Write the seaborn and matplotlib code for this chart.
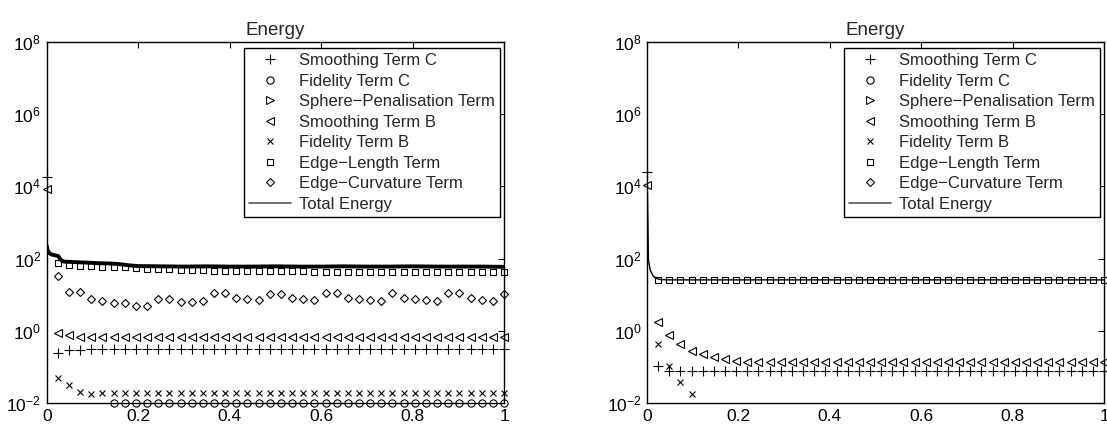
import numpy as np
import matplotlib
matplotlib.use("Agg")
import matplotlib.pyplot as plt
from matplotlib.lines import Line2D
import seaborn as sns

nan = np.nan

# iteration fraction at which the term markers are drawn (42 samples)
marker_x = np.linspace(0.0, 1.0, 42)

# ---- left run --------------------------------------------------------------
smooth_c_left = [18600, 0.24, 0.29, 0.30, 0.31, 0.31, 0.31,
                 0.31, 0.31, 0.31, 0.31, 0.31, 0.31, 0.31,
                 0.31, 0.31, 0.31, 0.32, 0.32, 0.32, 0.32,
                 0.32, 0.32, 0.32, 0.32, 0.32, 0.32, 0.32,
                 0.32, 0.32, 0.32, 0.32, 0.32, 0.32, 0.32,
                 0.32, 0.32, 0.32, 0.32, 0.32, 0.32, 0.32]
fid_c_left = [nan, nan, nan, nan, nan, nan, 0.0102,
              0.0102, 0.0102, 0.0102, 0.0102, 0.0102, 0.0102, 0.0102,
              0.0102, 0.0102, 0.0102, 0.0102, 0.0102, 0.0102, 0.0102,
              0.0102, 0.0102, 0.0102, 0.0102, 0.0102, 0.0102, 0.0102,
              0.0102, 0.0102, 0.0102, 0.0102, 0.0102, 0.0102, 0.0102,
              0.0102, 0.0102, 0.0102, 0.0102, 0.0102, 0.0102, 0.0102]
sphere_left = [nan] * 42
smooth_b_left = [8500, 0.89, 0.76, 0.69, 0.67, 0.66, 0.66,
                 0.66, 0.66, 0.66, 0.66, 0.66, 0.66, 0.66,
                 0.66, 0.66, 0.66, 0.66, 0.66, 0.66, 0.66,
                 0.66, 0.66, 0.66, 0.66, 0.66, 0.66, 0.66,
                 0.66, 0.66, 0.66, 0.66, 0.66, 0.66, 0.66,
                 0.66, 0.66, 0.66, 0.66, 0.66, 0.66, 0.66]
fid_b_left = [nan, 0.050, 0.031, 0.020, 0.018, 0.019, 0.0195,
              0.0195, 0.0195, 0.0195, 0.0195, 0.0195, 0.0195, 0.0195,
              0.0195, 0.0195, 0.0195, 0.0195, 0.0195, 0.0195, 0.0195,
              0.0195, 0.0195, 0.0195, 0.0195, 0.0195, 0.0195, 0.0195,
              0.0195, 0.0195, 0.0195, 0.0195, 0.0195, 0.0195, 0.0195,
              0.0195, 0.0195, 0.0195, 0.0195, 0.0195, 0.0195, 0.0195]
edge_len_left = [nan, 77, 66, 63, 61, 60, 58,
                 57, 55, 53, 51, 50, 49, 48,
                 47, 46, 46, 45, 45, 44, 44,
                 44, 44, 44, 43.5, 43.5, 43.5, 43.5,
                 43.5, 43.5, 43.5, 43.5, 43.5, 43.5, 43.5,
                 43.5, 43.5, 43.5, 43.5, 43.5, 43.5, 43]
edge_curv_left = [nan, 34, 11.7, 11.7, 7.4, 6.7, 5.8,
                  5.8, 5.0, 5.0, 7.5, 7.5, 6.1, 6.2,
                  6.7, 10.8, 11.0, 8.3, 7.6, 7.0, 10.6,
                  10.6, 7.9, 7.4, 7.1, 10.8, 10.8, 7.9,
                  7.4, 7.1, 6.8, 10.8, 7.9, 7.4, 7.1,
                  6.8, 10.8, 10.8, 7.9, 7.1, 6.8, 10.5]
total_x_left = [0, 0.002, 0.005, 0.01, 0.015, 0.02, 0.025, 0.03, 0.035, 0.04,
                0.06, 0.08, 0.10, 0.12, 0.14, 0.16, 0.18, 0.20, 0.25, 0.30,
                0.35, 0.40, 0.45, 0.50, 0.55, 0.60, 0.65, 0.70, 0.75, 0.80,
                0.85, 0.90, 0.95, 1.0]
total_y_left = [230, 165, 145, 130, 126, 122, 118, 95, 84, 82,
                80, 78, 76, 74, 73, 70, 65, 62, 61, 60,
                61, 60, 60, 61, 60, 60, 61, 60, 60, 61,
                60, 60, 60, 59]

# ---- right run -------------------------------------------------------------
smooth_c_right = [25700, 0.108, 0.079, 0.077, 0.076, 0.075, 0.075,
                  0.075, 0.075, 0.075, 0.075, 0.075, 0.075, 0.075,
                  0.075, 0.075, 0.075, 0.075, 0.075, 0.075, 0.075,
                  0.075, 0.075, 0.075, 0.075, 0.075, 0.075, 0.075,
                  0.075, 0.075, 0.075, 0.075, 0.075, 0.075, 0.075,
                  0.075, 0.075, 0.075, 0.075, 0.075, 0.075, 0.075]
fid_c_right = [nan] * 42
sphere_right = [nan] * 42
smooth_b_right = [11000, 1.72, 0.76, 0.43, 0.28, 0.224, 0.185,
                  0.166, 0.148, 0.140, 0.137, 0.135, 0.134, 0.134,
                  0.133, 0.133, 0.133, 0.133, 0.133, 0.133, 0.133,
                  0.133, 0.133, 0.133, 0.133, 0.133, 0.133, 0.133,
                  0.133, 0.133, 0.133, 0.133, 0.133, 0.133, 0.133,
                  0.133, 0.133, 0.133, 0.133, 0.133, 0.133, 0.133]
fid_b_right = [nan, 0.43, 0.105, 0.039, 0.0174, nan, nan,
               nan, nan, nan, nan, nan, nan, nan,
               nan, nan, nan, nan, nan, nan, nan,
               nan, nan, nan, nan, nan, nan, nan,
               nan, nan, nan, nan, nan, nan, nan,
               nan, nan, nan, nan, nan, nan, nan]
edge_len_right = [nan, 25.5, 25.5, 25.5, 25.5, 25.5, 25.5,
                  25.5, 25.5, 25.5, 25.5, 25.5, 25.5, 25.5,
                  25.5, 25.5, 25.5, 25.5, 25.5, 25.5, 25.5,
                  25.5, 25.5, 25.5, 25.5, 25.5, 25.5, 25.5,
                  25.5, 25.5, 25.5, 25.5, 25.5, 25.5, 25.5,
                  25.5, 25.5, 25.5, 25.5, 25.5, 25.5, 25.5]
edge_curv_right = [nan] * 42
total_x_right = [0, 0.003, 0.007, 0.014, 0.021, 0.03, 0.05, 0.2, 0.4, 0.6, 0.8, 1.0]
total_y_right = [37000, 91, 48, 32, 28, 26.2, 25.7, 25.7, 25.7, 25.7, 25.7, 25.7]

term_labels = ["Smoothing Term C", "Fidelity Term C", "Sphere\u2212Penalisation Term",
               "Smoothing Term B", "Fidelity Term B", "Edge\u2212Length Term",
               "Edge\u2212Curvature Term"]
total_label = "Total Energy"
y_ticks = [1e-2, 1e0, 1e2, 1e4, 1e6, 1e8]
x_ticks = [0, 0.2, 0.4, 0.6, 0.8, 1]

# marker style for each term, in legend order
term_styles = [
    dict(marker="+", ms=6.5, mew=0.8),
    dict(marker="o", ms=5.2, mew=0.8),
    dict(marker=">", ms=5.5, mew=0.8),
    dict(marker="<", ms=5.5, mew=0.8),
    dict(marker="x", ms=4.0, mew=0.8),
    dict(marker="s", ms=4.8, mew=0.8),
    dict(marker="D", ms=4.0, mew=0.8),
]

sns.set_theme(style="white")
plt.rcParams["font.family"] = ["Liberation Sans", "DejaVu Sans"]
plt.rcParams["mathtext.fontset"] = "custom"
plt.rcParams["mathtext.rm"] = "Liberation Sans"
plt.rcParams["mathtext.it"] = "Liberation Sans:italic"
plt.rcParams["axes.unicode_minus"] = True

fig = plt.figure(figsize=(11.07, 4.25), dpi=100)
ax_left = fig.add_axes([0.0422, 0.0518, 0.4131, 0.8494])
ax_right = fig.add_axes([0.5845, 0.0518, 0.4128, 0.8494])


def draw_panel(ax, terms, tx, ty, total_lw):
    for values, style, label in zip(terms, term_styles, term_labels):
        if np.all(np.isnan(np.asarray(values, dtype=float))):
            continue
        sns.lineplot(x=marker_x, y=values, ax=ax, color="black", linestyle="",
                     marker=style["marker"], markersize=style["ms"],
                     markerfacecolor="none", markeredgecolor="black",
                     markeredgewidth=style["mew"], estimator=None, sort=False,
                     legend=False, clip_on=False)
    sns.lineplot(x=tx, y=ty, ax=ax, color="black", linewidth=total_lw,
                 estimator=None, sort=False, legend=False)

    ax.set_yscale("log")
    ax.set_xlim(0, 1)
    ax.set_ylim(1e-2, 1e8)
    ax.set_yticks(y_ticks)
    ax.set_xticks(x_ticks)
    ax.set_xticklabels(["0", "0.2", "0.4", "0.6", "0.8", "1"])
    ax.minorticks_off()
    ax.tick_params(direction="in", length=4, width=0.8, top=True, right=True,
                   labelsize=12.5, colors="black", pad=4)
    for s in ax.spines.values():
        s.set_color("black")
        s.set_linewidth(1.0)
    ax.set_title("Energy", fontsize=13.5, pad=5)
    ax.set_xlabel("")
    ax.set_ylabel("")

    handles = [Line2D([], [], color="black", linestyle="", marker=st["marker"],
                      markersize=st["ms"], markerfacecolor="none",
                      markeredgecolor="black", markeredgewidth=st["mew"])
               for st in term_styles]
    handles.append(Line2D([], [], color="#555555", linewidth=1.2))
    leg = ax.legend(handles, term_labels + [total_label], loc="upper right",
                    bbox_to_anchor=(0.992, 0.983), fontsize=12, frameon=True,
                    fancybox=False, framealpha=1, edgecolor="black",
                    borderpad=0.3, labelspacing=0.33, handlelength=2.5,
                    handletextpad=0.5, borderaxespad=0.0)
    leg.get_frame().set_linewidth(1.0)


draw_panel(ax_left,
           [smooth_c_left, fid_c_left, sphere_left, smooth_b_left,
            fid_b_left, edge_len_left, edge_curv_left],
           total_x_left, total_y_left, 2.8)
draw_panel(ax_right,
           [smooth_c_right, fid_c_right, sphere_right, smooth_b_right,
            fid_b_right, edge_len_right, edge_curv_right],
           total_x_right, total_y_right, 1.0)

fig.savefig("out.png", dpi=100)
